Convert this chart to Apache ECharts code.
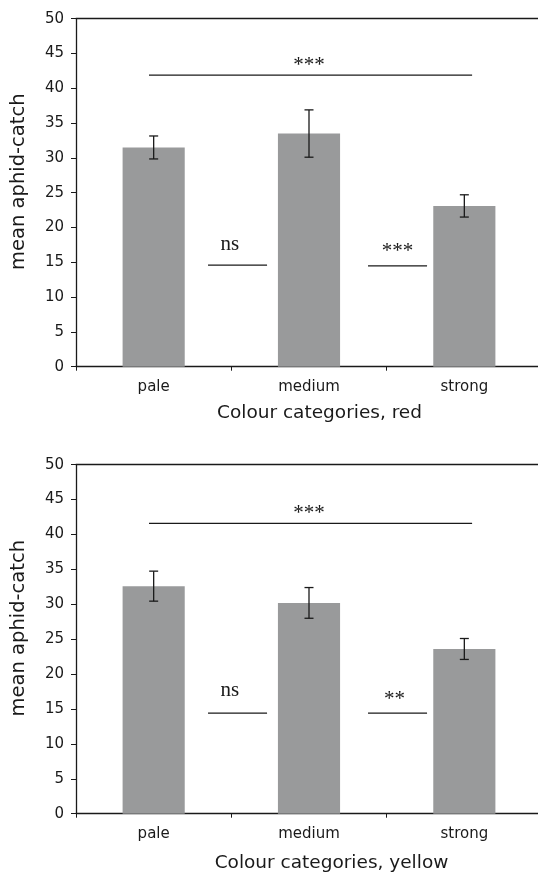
<!DOCTYPE html>
<html>
<head>
<meta charset="utf-8">
<script src="https://cdn.jsdelivr.net/npm/echarts@6/dist/echarts.min.js"></script>
<style>html,body{margin:0;padding:0;background:#fff;}#c{width:538px;height:873px;}</style>
</head>
<body>
<div id="c"></div>
<script>
const categories = ['pale', 'medium', 'strong'];
const redMeans = [31.5, 33.5, 23.1];
const redErr = [1.65, 3.4, 1.6];
const yellowMeans = [32.6, 30.2, 23.6];
const yellowErr = [2.15, 2.2, 1.5];
const yMin = 0, yMax = 50, yInterval = 5;
const redTitle = 'Colour categories, red';
const yellowTitle = 'Colour categories, yellow';
const yTitle = 'mean aphid-catch';
// brackets: [fromIndex, toIndex, yValue]
const redBrackets = [[-0.03, 2.05, 41.9], [0.35, 0.73, 14.6], [1.38, 1.76, 14.5]];
const yellowBrackets = [[-0.03, 2.05, 41.6], [0.35, 0.73, 14.4], [1.38, 1.76, 14.4]];
// marks: [text, index, yValue]
const redMarks = [['***', 1.0, 43.3], ['ns', 0.49, 17.6], ['***', 1.57, 16.5]];
const yellowMarks = [['***', 1.0, 43.0], ['ns', 0.49, 17.6], ['**', 1.55, 16.4]];

const dark = '#1a1a1a';
const sans = 'DejaVu Sans';
const grids = [
  { left: 76, top: 18.7, width: 466, height: 348 },
  { left: 76, top: 464.7, width: 466, height: 349 }
];

function catAxis(gi, title, padLeft, gap) {
  return {
    type: 'category', gridIndex: gi, data: categories, position: 'bottom',
    axisLine: { onZero: false, lineStyle: { color: dark, width: 1.3 } },
    axisTick: { show: true, length: 4, lineStyle: { color: dark } },
    axisLabel: { color: dark, fontFamily: sans, fontSize: 15, margin: 13 },
    name: title, nameLocation: 'middle', nameGap: gap,
    nameTextStyle: { color: dark, fontFamily: sans, fontSize: 18.5, padding: [0, 0, 0, padLeft] }
  };
}
function topAxis(gi) {
  return {
    type: 'category', gridIndex: gi, data: categories, position: 'top',
    axisLine: { show: true, onZero: false, lineStyle: { color: dark, width: 1.3 } },
    axisTick: { show: false }, axisLabel: { show: false }, splitLine: { show: false }
  };
}
function valXAxis(gi) {
  return { type: 'value', gridIndex: gi, min: -0.5, max: 2.5, show: false };
}
function yAxis(gi) {
  return {
    type: 'value', gridIndex: gi, min: yMin, max: yMax, interval: yInterval,
    axisLine: { show: true, onZero: false, lineStyle: { color: dark, width: 1.3 } },
    axisTick: { show: true, length: 5, lineStyle: { color: dark } },
    axisLabel: { color: dark, fontFamily: sans, fontSize: 15, margin: 12 },
    splitLine: { show: false },
    name: yTitle, nameLocation: 'middle', nameGap: 47.5,
    nameTextStyle: { color: dark, fontFamily: sans, fontSize: 19.5, padding: [0, 0, 0, 22] }
  };
}

function errSeries(xi, yi, means, errs) {
  return {
    type: 'custom', xAxisIndex: xi, yAxisIndex: yi, z: 5,
    data: means.map((m, i) => [i, m - errs[i], m + errs[i]]),
    renderItem: function (params, api) {
      const lo = api.coord([api.value(0), api.value(1)]);
      const hi = api.coord([api.value(0), api.value(2)]);
      const w = 4.5;
      const st = { stroke: dark, lineWidth: 1.3 };
      return { type: 'group', children: [
        { type: 'line', shape: { x1: lo[0], y1: lo[1], x2: hi[0], y2: hi[1] }, style: st },
        { type: 'line', shape: { x1: lo[0] - w, y1: lo[1], x2: lo[0] + w, y2: lo[1] }, style: st },
        { type: 'line', shape: { x1: hi[0] - w, y1: hi[1], x2: hi[0] + w, y2: hi[1] }, style: st }
      ]};
    }
  };
}
function bracketSeries(xi, yi, brackets) {
  return brackets.map(b => ({
    type: 'line', xAxisIndex: xi, yAxisIndex: yi, symbol: 'none', silent: true,
    data: [[b[0], b[2]], [b[1], b[2]]],
    lineStyle: { color: dark, width: 1.2 }
  }));
}
function markSeries(xi, yi, marks) {
  return {
    type: 'custom', xAxisIndex: xi, yAxisIndex: yi,
    data: marks.map(m => [m[1], m[2]]),
    renderItem: function (params, api) {
      const p = api.coord([api.value(0), api.value(1)]);
      return { type: 'text', x: p[0], y: p[1], style: {
        text: marks[params.dataIndex][0], fill: dark,
        font: '21px "Liberation Serif"', textAlign: 'center', textVerticalAlign: 'middle'
      }};
    }
  };
}

const chart = echarts.init(document.getElementById('c'), null, { renderer: 'canvas' });
chart.setOption({
  animation: false,
  backgroundColor: '#fff',
  grid: grids.map(g => Object.assign({ show: false, outerBoundsMode: 'none', containLabel: false }, g)),
  xAxis: [catAxis(0, redTitle, 21, 37.4), catAxis(1, yellowTitle, 45, 40.3), valXAxis(0), valXAxis(1), topAxis(0), topAxis(1)],
  yAxis: [yAxis(0), yAxis(1)],
  series: [
    { type: 'bar', xAxisIndex: 0, yAxisIndex: 0, data: redMeans, barWidth: '40%', itemStyle: { color: '#999a9b' } },
    { type: 'bar', xAxisIndex: 1, yAxisIndex: 1, data: yellowMeans, barWidth: '40%', itemStyle: { color: '#999a9b' } },
    errSeries(0, 0, redMeans, redErr),
    errSeries(1, 1, yellowMeans, yellowErr),
    ...bracketSeries(2, 0, redBrackets),
    ...bracketSeries(3, 1, yellowBrackets),
    markSeries(2, 0, redMarks),
    markSeries(3, 1, yellowMarks)
  ]
});
</script>
</body>
</html>
